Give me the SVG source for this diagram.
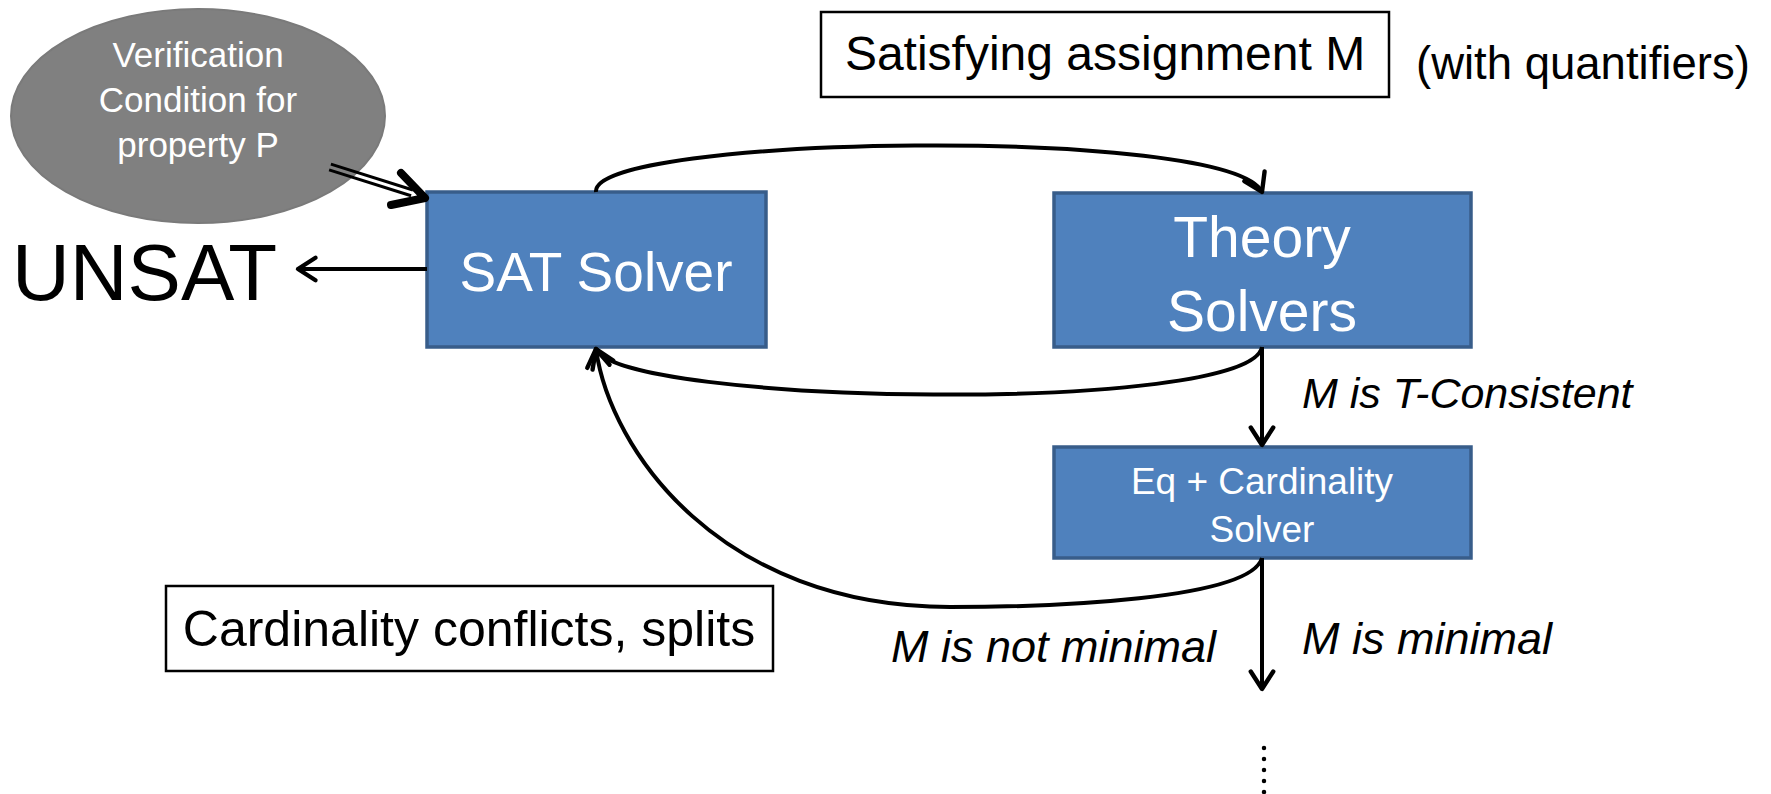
<svg xmlns="http://www.w3.org/2000/svg" width="1771" height="794" viewBox="0 0 1771 794">
<style>
text{font-family:"Liberation Sans",Arial,sans-serif}
.box{fill:#4F81BD;stroke:#385D8A;stroke-width:3.5}
.wt{fill:#fff;text-anchor:middle}
.bt{fill:#000;text-anchor:middle}
.lbl{fill:none;stroke:#000;stroke-width:2.5}
.it{font-style:italic;fill:#000}
.con{fill:none;stroke:#000;stroke-width:4}
</style>
<defs>
<marker id="ar" markerUnits="userSpaceOnUse" markerWidth="30" markerHeight="30" refX="18" refY="12" orient="auto" viewBox="0 0 24 24">
<path d="M4,3 L18,12 L4,21" fill="none" stroke="#000" stroke-width="3.5" stroke-linecap="round" stroke-linejoin="round"/>
</marker>
</defs>
<g id="vc">
<ellipse cx="198" cy="116" rx="187" ry="107" fill="#808080" stroke="#7a7a7a" stroke-width="2"/>
<text class="wt" x="198" y="67" font-size="35">Verification</text>
<text class="wt" x="198" y="112" font-size="35">Condition for</text>
<text class="wt" x="198" y="157" font-size="35">property P</text>
</g>
<g id="unsat">
<text x="12" y="300" font-size="80" fill="#000">UNSAT</text>
</g>
<g id="sat">
<rect class="box" x="427" y="192" width="339" height="155"/>
<text class="wt" x="596" y="291" font-size="55">SAT Solver</text>
</g>
<g id="theory">
<rect class="box" x="1054" y="193" width="417" height="154"/>
<text class="wt" x="1262" y="257" font-size="57">Theory</text>
<text class="wt" x="1262" y="331" font-size="57">Solvers</text>
</g>
<g id="eq">
<rect class="box" x="1054" y="447" width="417" height="111"/>
<text class="wt" x="1262" y="494" font-size="37">Eq + Cardinality</text>
<text class="wt" x="1262" y="542" font-size="37">Solver</text>
</g>
<g id="satm">
<rect class="lbl" x="821" y="12" width="568" height="85"/>
<text class="bt" x="1105" y="70" font-size="48">Satisfying assignment M</text>
</g>
<g id="quant">
<text x="1416" y="79" font-size="45.5" fill="#000">(with quantifiers)</text>
</g>
<g id="card">
<rect class="lbl" x="166" y="586" width="607" height="85"/>
<text class="bt" x="469" y="646" font-size="50">Cardinality conflicts, splits</text>
</g>
<g id="labels">
<text class="it" x="1302" y="408" font-size="43">M is T-Consistent</text>
<text class="it" x="1302" y="654" font-size="45">M is minimal</text>
<text class="it" x="891" y="662" font-size="45">M is not minimal</text>
</g>
<g id="connectors">
<line x1="330.9" y1="164.1" x2="412.9" y2="190" stroke="#000" stroke-width="3"/>
<line x1="329.1" y1="169.9" x2="411.1" y2="195.8" stroke="#000" stroke-width="3"/>
<polyline points="401,173 425,198 391,205" fill="none" stroke="#000" stroke-width="8" stroke-linecap="round" stroke-linejoin="round"/>
<line class="con" x1="427" y1="269" x2="298" y2="269" marker-end="url(#ar)" stroke-width="3"/>
<path class="con" d="M596 192 C590 135 1230 125 1262 192" marker-end="url(#ar)"/>
<path class="con" d="M1262 347 C1250 415 620 405 596 349" marker-end="url(#ar)"/>
<line class="con" x1="1262" y1="347" x2="1262" y2="445" marker-end="url(#ar)"/>
<path class="con" d="M1262 558 C1250 600 1050 607 950 607 C720 607 610 450 596 349" marker-end="url(#ar)"/>
<line class="con" x1="1262" y1="558" x2="1262" y2="689" marker-end="url(#ar)"/>
<line x1="1264" y1="748" x2="1264" y2="794" stroke="#000" stroke-width="4.5" stroke-dasharray="0 11" stroke-linecap="round"/>
</g>
</svg>
